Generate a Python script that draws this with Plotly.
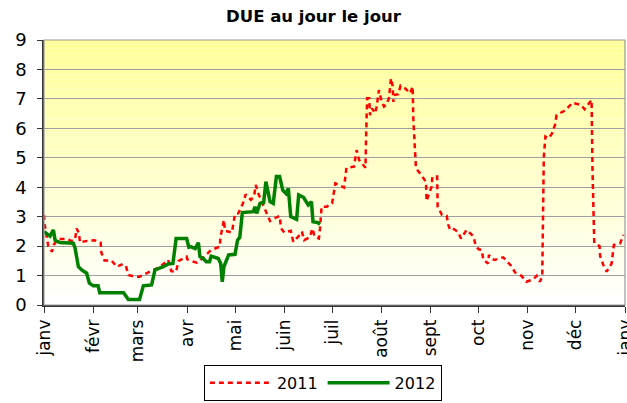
import plotly.graph_objects as go

# Day of year (0 = 1 Jan) and values
days_2011 = [0, 0.5, 1.7, 2.7, 5, 6, 9, 15, 17, 19.5, 20.5, 22, 22.6, 26, 31.6, 35.6, 36, 38, 42.5,
             45.6, 49.4, 51.5, 53, 57, 60, 63.4, 68, 73, 78, 80, 83, 84.4, 89.6, 90, 94, 96, 98, 105,
             110.5, 110.8, 112, 113, 113.7, 118, 119, 120, 122, 125, 126.7, 130, 132, 133, 134.6, 138,
             141, 142, 143.5, 146, 148, 149, 151, 155, 156.6, 160, 162, 163.4, 167, 168.6, 170, 172.7,
             173.4, 174.4, 177.6, 181, 182, 183, 188.5, 189, 190, 194.7, 196, 196.4, 198, 202, 202.3,
             202.7, 203, 204.3, 204.8, 206, 208, 209, 210, 210.4, 212, 213.6, 214.8, 216.7, 218, 219,
             219.5, 219.8, 222.6, 224, 226.8, 230, 231.6, 232, 233, 233.7, 237, 240, 240.3, 243.5, 244,
             247, 247.3, 250, 253, 254, 255, 256, 260, 262, 265.5, 270, 271, 273, 275, 276, 279, 279.5,
             281, 283, 288.5, 293, 296, 300, 303, 307.4, 309.5, 311.5, 313, 314, 315, 317, 319, 321,
             322, 327.7, 332, 337.5, 339.6, 342.5, 344, 344.6, 345.7, 349, 349.4, 351.4, 353.5, 356.6,
             358, 362, 364]
vals_2011 = [3.06, 2.72, 2.32, 2.0, 1.81, 2.04, 2.24, 2.24, 2.17, 2.22, 2.6, 2.43, 2.12, 2.17, 2.2, 2.12,
             1.78, 1.51, 1.51, 1.3, 1.39, 1.32, 1.02, 0.96, 0.96, 1.05, 1.17, 1.3, 1.53, 1.15, 1.13,
             1.49, 1.64, 1.55, 1.47, 1.44, 1.51, 1.87, 1.98, 2.3, 2.6, 2.89, 2.52, 2.46, 2.77, 3.09,
             3.11, 3.45, 3.76, 3.57, 3.7, 4.08, 3.79, 3.34, 2.98, 2.85, 2.89, 2.98, 3.02, 2.6, 2.46,
             2.52, 2.15, 2.34, 2.49, 2.2, 2.3, 2.6, 2.32, 2.26, 2.6, 3.34, 3.34, 3.45, 3.79, 4.13, 3.99,
             4.3, 4.66, 4.7, 5.04, 5.26, 4.92, 4.66, 5.66, 6.34, 7.02, 7.02, 6.45, 6.68, 6.51, 6.74,
             7.04, 7.3, 6.93, 6.74, 6.79, 7.02, 7.7, 7.45, 6.9, 7.13, 7.16, 7.45, 7.36, 7.19, 7.42,
             6.34, 5.32, 4.64, 4.42, 4.17, 3.53, 4.02, 4.36, 4.36, 3.34, 3.06, 3.03, 2.72, 2.58, 2.63,
             2.49, 2.26, 2.55, 2.32, 2.04, 1.89, 1.87, 1.53, 1.41, 1.7, 1.58, 1.53, 1.62, 1.36, 1.1,
             0.99, 0.79, 0.87, 0.99, 0.79, 0.96, 5.04, 5.72, 5.66, 5.81, 6.11, 6.45, 6.62, 6.87, 6.79,
             6.65, 6.83, 6.96, 4.53, 2.1, 2.0, 1.66, 1.36, 1.13, 1.41, 2.04, 2.1, 2.38]

days_2012 = [0, 3.8, 5.9, 7, 10, 16, 18.4, 19.5, 21.6, 23.7, 26.8, 28.5, 31, 34, 35, 50, 51.5, 53, 60,
             62.4, 67.6, 69.7, 75, 78, 81, 83, 89.6, 91, 92, 95, 97, 98, 100, 102, 104, 105, 109.5,
             111, 112, 113, 116, 120, 121.6, 123, 124.6, 131.5, 132.5, 133.6, 135.7, 138, 139.4, 142,
             144, 146, 148, 150, 152, 153.5, 155, 158.7, 160, 163, 166, 168, 169, 172, 173.4]
vals_2012 = [2.49, 2.34, 2.55, 2.2, 2.12, 2.12, 2.1, 1.94, 1.3, 1.19, 1.08, 0.74, 0.65, 0.65, 0.42,
             0.42, 0.28, 0.19, 0.19, 0.65, 0.68, 1.19, 1.3, 1.39, 1.41, 2.26, 2.26, 1.96, 1.98, 1.92,
             2.12, 1.64, 1.58, 1.47, 1.47, 1.66, 1.58, 1.41, 0.79, 1.3, 1.7, 1.72, 2.2, 2.3, 3.14, 3.17,
             3.34, 3.11, 3.45, 3.48, 4.19, 3.51, 3.45, 4.36, 4.36, 3.9, 3.79, 3.96, 3.0, 2.91, 3.74,
             3.66, 3.4, 3.51, 2.83, 2.8, 2.74]

month_starts = [0, 31, 59, 90, 120, 151, 181, 212, 243, 273, 304, 334, 365]
month_labels = ["janv", "févr", "mars", "avr", "mai", "juin", "juil", "août", "sept", "oct", "nov",
                "déc", "janv"]
y_ticks = list(range(0, 10))

FONT = "DejaVu Sans"

fig = go.Figure()
fig.add_trace(go.Scatter(x=days_2011, y=vals_2011, mode="lines", name="2011",
                         line=dict(color="#FF0000", width=2.5, dash="5px,4px")))
fig.add_trace(go.Scatter(x=days_2012, y=vals_2012, mode="lines", name="2012",
                         line=dict(color="#008000", width=3.5)))

# vertical gradient background (yellow top to white bottom)
shapes = []
n = 60
for i in range(n):
    blue = 0x99 + (0xFF - 0x99) * i // (n - 1)
    shapes.append(dict(type="rect", xref="x domain", yref="y domain",
                       x0=0, x1=1, y0=1 - (i + 1) / n, y1=1 - i / n,
                       fillcolor=f"rgb(255,255,{blue})",
                       line=dict(width=0), layer="below"))
shapes.append(dict(type="rect", xref="x domain", yref="y domain", x0=0, x1=1, y0=0, y1=1,
                   line=dict(color="#999999", width=1.2), fillcolor="rgba(0,0,0,0)", layer="above"))

fig.update_layout(
    template="none",
    width=627, height=403,
    margin=dict(l=44, r=2, t=40, b=98, autoexpand=False),
    paper_bgcolor="white", plot_bgcolor="white",
    shapes=shapes,
    font=dict(family=FONT, color="black", size=16),
    title=dict(text="<b>DUE au jour le jour</b>", x=0.5, xanchor="center", y=0.975, yanchor="top",
               font=dict(family=FONT, size=16.5, color="black")),
    showlegend=True,
    legend=dict(orientation="h", x=0.48, xanchor="center", y=-0.226, yanchor="top",
                bordercolor="black", borderwidth=1, bgcolor="white",
                font=dict(family=FONT, size=16), itemwidth=62),
    xaxis=dict(range=[0, 365], tickvals=month_starts, ticktext=month_labels, tickangle=-90,
               automargin=False, ticklabeloverflow="allow",
               showgrid=False, zeroline=False, showline=True, linecolor="#333333", linewidth=1.5,
               ticks="outside", ticklen=6, tickcolor="#333333", tickfont=dict(size=17)),
    yaxis=dict(range=[0, 9], tickvals=y_ticks, showgrid=True, gridcolor="#A0A0A0", gridwidth=1,
               automargin=False, ticklabelstandoff=7,
               zeroline=False, showline=True, linecolor="#333333", linewidth=1.5,
               ticks="outside", ticklen=5, tickcolor="#333333", tickfont=dict(size=18)),
)

fig.write_html("out.html", config={"displayModeBar": False},
               post_script="document.body.style.margin='0';document.body.style.overflow='hidden';")
